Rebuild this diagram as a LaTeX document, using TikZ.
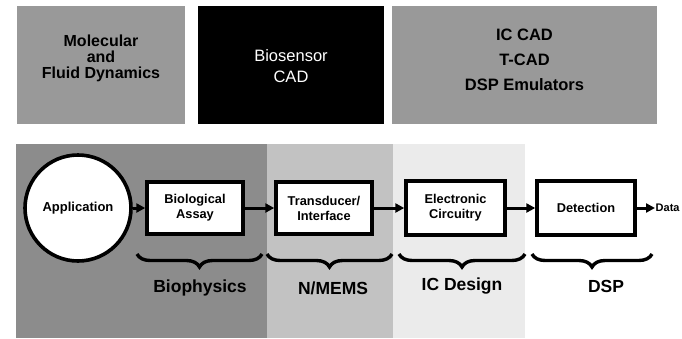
\documentclass[tikz,border=0pt]{standalone}
\usepackage{fontspec}
\setmainfont{Liberation Sans}
\usetikzlibrary{arrows.meta,decorations.pathreplacing}
\begin{document}
\begin{tikzpicture}[x=1pt,y=-1pt,
  topgray/.style={fill=black!40,draw=none,inner sep=0pt},
  topblack/.style={fill=black,draw=none,inner sep=0pt},
  toptext/.style={inner sep=0pt,align=center,font=\bfseries\fontsize{16}{16}\selectfont},
  blockbox/.style={draw=black,line width=3.4pt,fill=white,inner sep=0pt,align=center,minimum height=52pt,font=\bfseries\fontsize{12.8}{15}\selectfont},
  appcircle/.style={circle,draw=black,line width=3.6pt,fill=white,minimum size=106pt,inner sep=0pt,font=\bfseries\fontsize{13}{15}\selectfont},
  flow/.style={line width=3pt,-{Triangle[length=9pt,width=9pt]}},
  bracedeco/.style={line width=3.4pt,decorate,decoration={brace,mirror,amplitude=13pt}},
  lab/.style={font=\bfseries\fontsize{17.5}{17}\selectfont,inner sep=0pt}
]
\useasboundingbox (0,0) rectangle (682,338);
\fill[white] (0,0) rectangle (682,338);
% top boxes
\node[topgray,minimum width=168pt,minimum height=118pt] (mol) at (101,65) {};
\node[toptext] (moltext) at ([yshift=7pt]mol.center) {Molecular\\and\\Fluid Dynamics};
\node[topblack,minimum width=186pt,minimum height=118pt] (bio) at (291,65) {};
\node[inner sep=0pt,align=center,text=white,font=\fontsize{16.5}{21}\selectfont] (biotext) at ([yshift=-1pt]bio.center) {Biosensor\\CAD};
\node[topgray,minimum width=265pt,minimum height=118pt] (ic) at (524.5,65) {};
\node[toptext,font=\bfseries\fontsize{16.5}{25}\selectfont] (ictext) at ([yshift=5pt]ic.center) {IC CAD\\T-CAD\\DSP Emulators};
% background regions
\fill[black!45] (16,144) rectangle (267,338);
\fill[black!24] (267,144) rectangle (393,338);
\fill[black!8] (393,144) rectangle (525,338);
% chain
\node[appcircle] (app) at (78,208) {Application};
\node[blockbox,minimum width=96pt] (assay) at (195,208) {Biological\\Assay};
\node[blockbox,minimum width=96pt] (trans) at (324,208) {Transducer/\\Interface};
\node[blockbox,minimum width=99pt,minimum height=54pt] (elec) at (455.5,208) {Electronic\\Circuitry};
\node[blockbox,minimum width=98pt,minimum height=54pt] (det) at (586,208) {Detection};
\node[anchor=west,inner sep=0.5pt,font=\bfseries\fontsize{11}{13}\selectfont] (data) at (655,208) {Data};
\draw[flow] (app) -- (assay);
\draw[flow] (assay) -- (trans);
\draw[flow] (trans) -- (elec);
\draw[flow] (elec) -- (det);
\draw[flow] (det) -- (data);
% braces
\coordinate (b1a) at (137,254); \coordinate (b1b) at (262,254);
\coordinate (b2a) at (267,254); \coordinate (b2b) at (392,254);
\coordinate (b3a) at (399,254); \coordinate (b3b) at (525,254);
\coordinate (b4a) at (532,254); \coordinate (b4b) at (652,254);
\draw[bracedeco] (b1a) -- (b1b);
\draw[bracedeco] (b2a) -- (b2b);
\draw[bracedeco] (b3a) -- (b3b);
\draw[bracedeco] (b4a) -- (b4b);
\node[lab] (l1) at (200,288) {Biophysics};
\node[lab] (l2) at (333,288) {N/MEMS};
\node[lab] (l3) at (462,286) {IC Design};
\node[lab] (l4) at (606,286) {DSP};
\end{tikzpicture}
\end{document}
